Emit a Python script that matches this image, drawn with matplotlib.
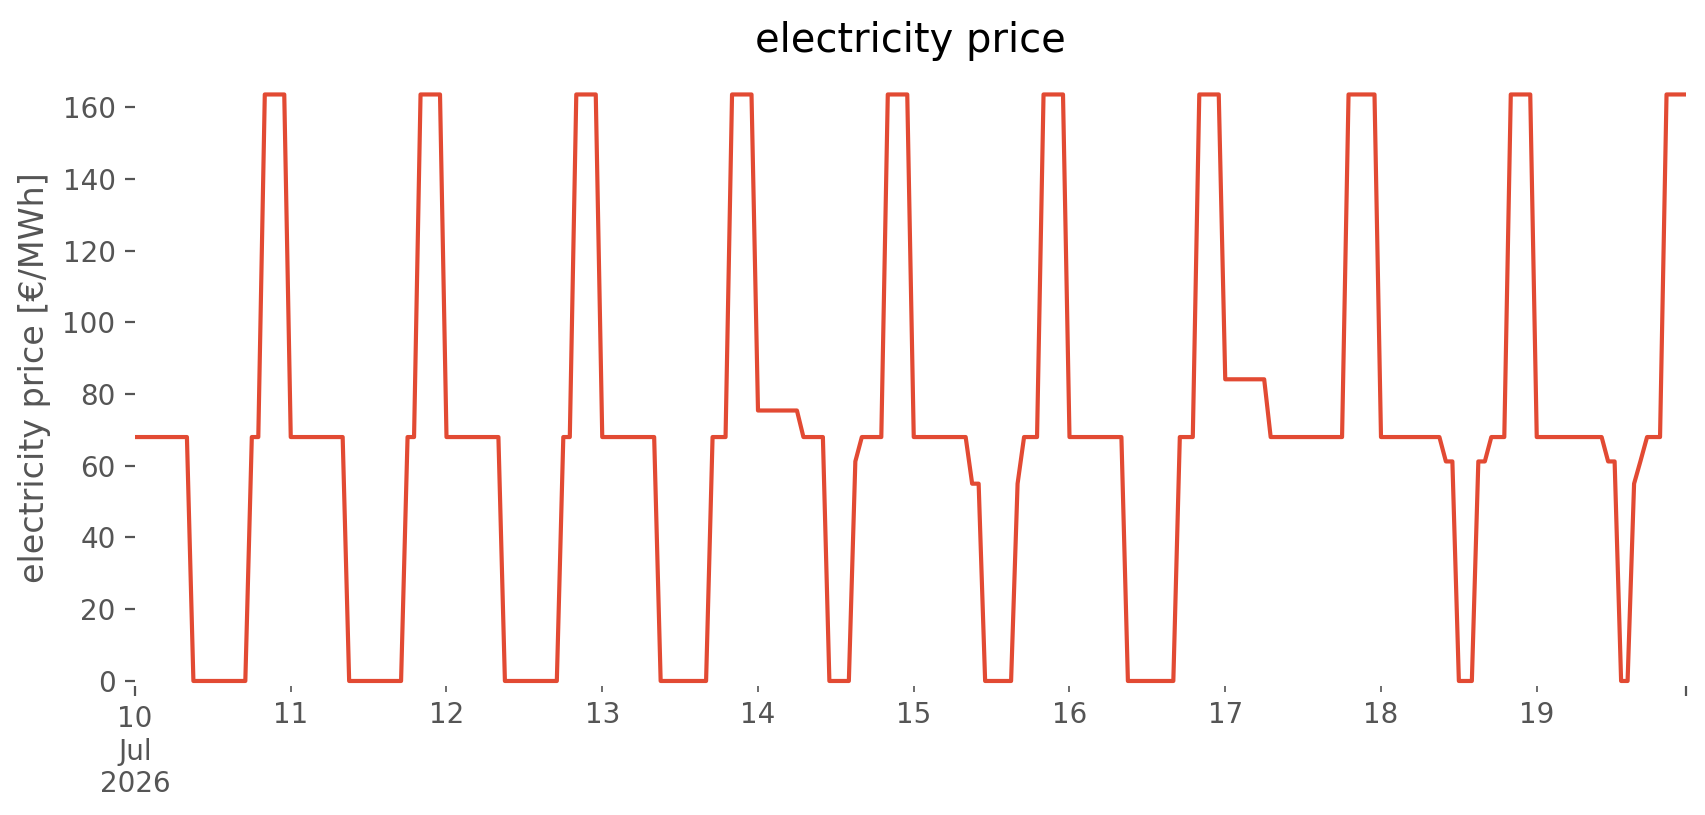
import matplotlib
matplotlib.use("Agg")
import matplotlib.pyplot as plt
import numpy as np
import pandas as pd

plt.style.use("ggplot")

# hourly electricity price (€/MWh), one list per day (hours 0..23)
jul10 = [68, 68, 68, 68, 68, 68, 68, 68, 68, 0, 0, 0, 0, 0, 0, 0, 0, 0, 68, 68, 163.5, 163.5, 163.5, 163.5]
jul11 = [68, 68, 68, 68, 68, 68, 68, 68, 68, 0, 0, 0, 0, 0, 0, 0, 0, 0, 68, 68, 163.5, 163.5, 163.5, 163.5]
jul12 = [68, 68, 68, 68, 68, 68, 68, 68, 68, 0, 0, 0, 0, 0, 0, 0, 0, 0, 68, 68, 163.5, 163.5, 163.5, 163.5]
jul13 = [68, 68, 68, 68, 68, 68, 68, 68, 68, 0, 0, 0, 0, 0, 0, 0, 0, 68, 68, 68, 163.5, 163.5, 163.5, 163.5]
jul14 = [75.4, 75.4, 75.4, 75.4, 75.4, 75.4, 75.4, 68, 68, 68, 68, 0, 0, 0, 0, 61.2, 68, 68, 68, 68, 163.5, 163.5, 163.5, 163.5]
jul15 = [68, 68, 68, 68, 68, 68, 68, 68, 68, 55, 55, 0, 0, 0, 0, 0, 55, 68, 68, 68, 163.5, 163.5, 163.5, 163.5]
jul16 = [68, 68, 68, 68, 68, 68, 68, 68, 68, 0, 0, 0, 0, 0, 0, 0, 0, 68, 68, 68, 163.5, 163.5, 163.5, 163.5]
jul17 = [84.1, 84.1, 84.1, 84.1, 84.1, 84.1, 84.1, 68, 68, 68, 68, 68, 68, 68, 68, 68, 68, 68, 68, 163.5, 163.5, 163.5, 163.5, 163.5]
jul18 = [68, 68, 68, 68, 68, 68, 68, 68, 68, 68, 61.2, 61.2, 0, 0, 0, 61.2, 61.2, 68, 68, 68, 163.5, 163.5, 163.5, 163.5]
jul19 = [68, 68, 68, 68, 68, 68, 68, 68, 68, 68, 68, 61.2, 61.2, 0, 0, 55, 61.4, 68, 68, 68, 163.5, 163.5, 163.5, 163.5]

days = [jul10, jul11, jul12, jul13, jul14, jul15, jul16, jul17, jul18, jul19]
prices = np.concatenate([np.array(d, dtype=float) for d in days])
index = pd.date_range("2026-07-10 00:00", periods=len(prices), freq="h")

day_ticks = pd.date_range("2026-07-11", "2026-07-19", freq="D")
day_labels = [str(d.day) for d in day_ticks]
first_label = "10\nJul\n2026"
y_ticks = [0, 20, 40, 60, 80, 100, 120, 140, 160]

fig = plt.figure(figsize=(1706 / 200, 815 / 200), dpi=200)
fig.patch.set_facecolor("white")
ax = fig.add_axes([135 / 1706, 1 - 686 / 815, (1686 - 135) / 1706, (686 - 69) / 815])
ax.set_facecolor("white")
ax.grid(False)
for s in ax.spines.values():
    s.set_visible(False)

ax.plot(index.to_pydatetime(), prices, color="#E24A33", lw=1.5)

ax.set_xlim(index[0].to_pydatetime(), index[-1].to_pydatetime())
ax.set_ylim(-1.4, 170.6)

ax.set_xticks([index[0].to_pydatetime(), index[-1].to_pydatetime()])
ax.set_xticklabels([first_label, ""])
ax.set_xticks([d.to_pydatetime() for d in day_ticks], minor=True)
ax.set_xticklabels(day_labels, minor=True)
ax.set_yticks(y_ticks)
ax.set_yticklabels([str(v) for v in y_ticks])

ax.tick_params(axis="both", which="both", colors="#555555", labelsize=10)
ax.tick_params(axis="x", which="major", length=3.5)
ax.tick_params(axis="x", which="minor", length=2)

ax.set_ylabel("electricity price [€/MWh]", color="#555555", fontsize=12)
ax.set_title("electricity price", fontsize=14.4, color="black")

fig.savefig("out.png", dpi=200, facecolor="white")
